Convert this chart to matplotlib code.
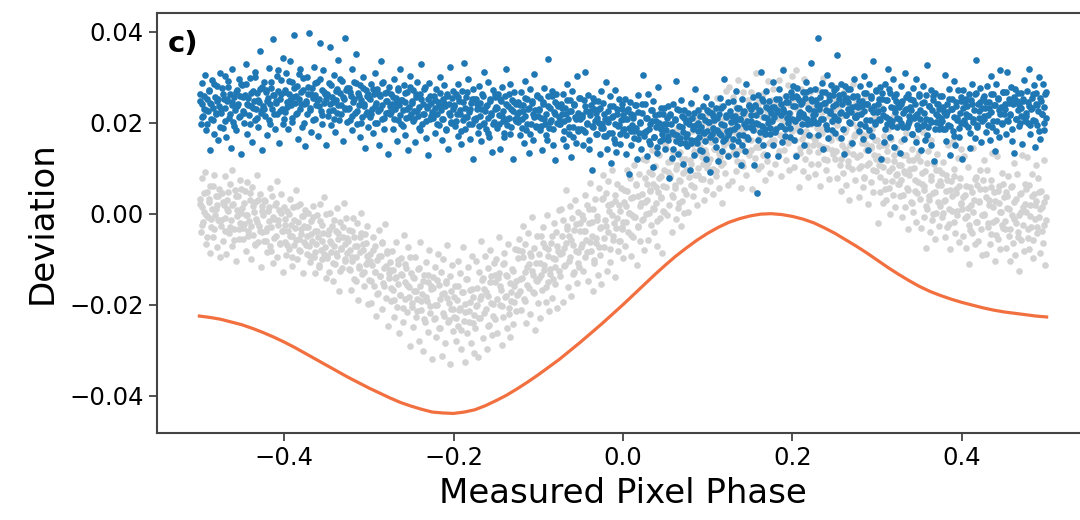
import numpy as np
import matplotlib
matplotlib.use("Agg")
import matplotlib.pyplot as plt

# phase bins: left edges of the 40 bins (+ right end)
phase = [-0.5, -0.475, -0.45, -0.425, -0.4, -0.375, -0.35, -0.325, -0.3, -0.275,
         -0.25, -0.225, -0.2, -0.175, -0.15, -0.125, -0.1, -0.075, -0.05, -0.025,
         0.0, 0.025, 0.05, 0.075, 0.1, 0.125, 0.15, 0.175, 0.2, 0.225,
         0.25, 0.275, 0.3, 0.325, 0.35, 0.375, 0.4, 0.425, 0.45, 0.475, 0.5]
bin_width = 0.025

# model curve (orange)
model_phase = [-0.5, -0.4875, -0.475, -0.4625, -0.45, -0.4375, -0.425, -0.4125, -0.4, -0.3875,
               -0.375, -0.3625, -0.35, -0.3375, -0.325, -0.3125, -0.3, -0.2875, -0.275, -0.2625,
               -0.25, -0.2375, -0.225, -0.2125, -0.2, -0.1875, -0.175, -0.1625, -0.15, -0.1375,
               -0.125, -0.1125, -0.1, -0.0875, -0.075, -0.0625, -0.05, -0.0375, -0.025, -0.0125,
               0.0, 0.0125, 0.025, 0.0375, 0.05, 0.0625, 0.075, 0.0875, 0.1, 0.1125,
               0.125, 0.1375, 0.15, 0.1625, 0.175, 0.1875, 0.2, 0.2125, 0.225, 0.2375,
               0.25, 0.2625, 0.275, 0.2875, 0.3, 0.3125, 0.325, 0.3375, 0.35, 0.3625,
               0.375, 0.3875, 0.4, 0.4125, 0.425, 0.4375, 0.45, 0.4625, 0.475, 0.4875, 0.5]
model = [-0.0225, -0.0228, -0.0232, -0.0238, -0.0244, -0.0252, -0.0261, -0.0271, -0.0282, -0.0294,
         -0.0307, -0.0320, -0.0333, -0.0346, -0.0359, -0.0371, -0.0383, -0.0394, -0.0405, -0.0415,
         -0.0423, -0.0430, -0.0436, -0.0438, -0.0439, -0.0436, -0.0431, -0.0422, -0.0411, -0.0399,
         -0.0385, -0.0370, -0.0354, -0.0337, -0.0320, -0.0301, -0.0282, -0.0262, -0.0242, -0.0221,
         -0.0200, -0.0178, -0.0156, -0.0134, -0.0113, -0.0093, -0.0075, -0.0058, -0.0043, -0.0030,
         -0.0019, -0.0011, -0.0005, -0.0001, 0.0000, -0.0002, -0.0006, -0.0012, -0.0020, -0.0031,
         -0.0043, -0.0057, -0.0071, -0.0086, -0.0102, -0.0118, -0.0133, -0.0147, -0.0160, -0.0171,
         -0.0180, -0.0188, -0.0195, -0.0201, -0.0207, -0.0212, -0.0216, -0.0219, -0.0222, -0.0225, -0.0227]

# corrected deviations (blue), per phase bin, units of 1e-4
blue_dev = [
    [262, 198, 241, 287, 215, 229, 305, 184, 251, 226, 270, 139, 244, 208, 293, 232, 176, 256, 219, 281, 247, 162, 237, 310],
    [221, 276, 189, 253, 302, 233, 168, 247, 291, 210, 264, 145, 238, 319, 202, 257, 227, 183, 272, 241, 296, 214, 259, 131],
    [283, 226, 199, 261, 330, 240, 175, 254, 217, 298, 236, 158, 270, 248, 205, 312, 229, 266, 190, 245, 358, 221, 279, 141],
    [236, 289, 214, 267, 173, 255, 321, 242, 198, 276, 229, 384, 261, 187, 247, 303, 219, 270, 156, 252, 294, 231, 342, 208],
    [271, 223, 309, 246, 186, 262, 336, 238, 290, 201, 257, 393, 244, 218, 281, 165, 253, 317, 229, 268, 190, 299, 242, 149],
    [247, 301, 219, 264, 398, 233, 180, 276, 255, 322, 208, 260, 239, 289, 171, 251, 375, 226, 272, 197, 315, 243, 262, 152],
    [263, 215, 288, 241, 366, 194, 257, 228, 305, 179, 249, 274, 221, 337, 206, 266, 238, 292, 160, 253, 387, 232, 271, 201],
    [229, 277, 206, 258, 318, 184, 246, 289, 222, 351, 197, 265, 238, 168, 283, 250, 213, 300, 236, 145, 271, 224, 259, 190],
    [255, 212, 284, 231, 178, 262, 309, 199, 244, 273, 225, 150, 258, 336, 208, 239, 290, 186, 266, 221, 247, 132, 279, 236],
    [218, 264, 241, 187, 296, 229, 254, 160, 277, 205, 238, 319, 196, 250, 227, 283, 172, 246, 211, 268, 141, 235, 302, 220],
    [247, 203, 271, 226, 158, 256, 290, 214, 235, 183, 262, 330, 198, 241, 219, 279, 167, 232, 252, 129, 288, 209, 244, 224],
    [211, 259, 233, 178, 274, 220, 246, 195, 301, 228, 163, 252, 207, 283, 236, 186, 264, 142, 241, 217, 322, 199, 255, 230],
    [238, 192, 263, 219, 286, 171, 247, 228, 154, 270, 205, 331, 233, 186, 256, 212, 295, 224, 165, 243, 198, 274, 120, 251],
    [206, 251, 229, 177, 280, 215, 243, 159, 264, 198, 312, 226, 185, 238, 211, 289, 169, 247, 222, 136, 271, 201, 257, 230],
    [234, 189, 262, 216, 143, 247, 279, 203, 226, 168, 258, 319, 194, 237, 211, 284, 176, 229, 250, 121, 267, 208, 241, 220],
    [201, 246, 223, 172, 268, 209, 238, 156, 291, 214, 184, 253, 230, 133, 275, 197, 244, 219, 161, 306, 227, 190, 259, 215],
    [229, 183, 254, 210, 140, 241, 277, 196, 220, 162, 258, 340, 188, 233, 205, 269, 151, 224, 245, 118, 262, 199, 236, 213],
    [197, 241, 218, 165, 263, 204, 232, 148, 284, 209, 176, 249, 225, 124, 270, 190, 238, 213, 155, 302, 221, 182, 255, 207],
    [187, 212, 152, 250, 311, 180, 226, 196, 260, 142, 216, 238, 96, 255, 190, 229, 203, 221, 176, 247, 199, 131, 233, 269],
    [196, 243, 170, 209, 289, 143, 201, 226, 178, 258, 112, 213, 237, 164, 197, 272, 136, 220, 192, 251, 153, 206, 229, 184],
    [217, 186, 251, 132, 207, 229, 87, 246, 181, 220, 194, 211, 166, 238, 189, 121, 224, 260, 177, 202, 142, 241, 305, 170],
    [241, 182, 210, 126, 262, 187, 154, 227, 203, 102, 248, 168, 216, 191, 133, 279, 199, 160, 233, 186, 174, 219, 196, 143],
    [184, 210, 171, 236, 78, 219, 197, 122, 241, 176, 207, 160, 292, 231, 132, 192, 167, 250, 214, 110, 179, 228, 156, 201],
    [149, 222, 198, 97, 243, 163, 211, 186, 128, 274, 194, 155, 228, 181, 169, 214, 191, 138, 236, 177, 205, 121, 257, 182],
    [202, 224, 91, 241, 176, 215, 189, 206, 161, 233, 184, 115, 219, 255, 172, 197, 137, 236, 297, 165, 212, 181, 246, 127],
    [179, 226, 201, 148, 248, 187, 215, 131, 269, 192, 159, 232, 208, 107, 253, 173, 221, 196, 138, 284, 204, 165, 238, 191],
    [204, 230, 191, 256, 106, 239, 217, 45, 261, 196, 227, 180, 312, 251, 152, 212, 187, 270, 234, 130, 199, 248, 176, 221],
    [235, 151, 289, 212, 179, 252, 228, 127, 273, 193, 241, 216, 158, 316, 224, 185, 258, 210, 199, 246, 221, 168, 268, 207],
    [281, 162, 237, 259, 126, 276, 211, 250, 224, 241, 196, 268, 219, 150, 254, 290, 207, 232, 172, 271, 332, 200, 247, 216],
    [225, 273, 200, 239, 385, 173, 231, 256, 208, 288, 142, 243, 267, 194, 227, 304, 166, 250, 222, 283, 183, 236, 261, 214],
    [177, 276, 348, 205, 252, 221, 286, 167, 242, 264, 131, 281, 216, 255, 229, 246, 201, 273, 224, 155, 259, 295, 212, 237],
    [212, 259, 234, 181, 281, 220, 248, 164, 302, 225, 192, 265, 241, 140, 286, 206, 254, 229, 171, 336, 237, 198, 271, 223],
    [226, 252, 208, 279, 120, 266, 231, 158, 284, 213, 249, 198, 318, 275, 169, 235, 203, 296, 257, 146, 223, 262, 190, 244],
    [234, 133, 280, 199, 247, 222, 164, 310, 229, 191, 263, 215, 204, 253, 227, 174, 276, 211, 241, 157, 297, 218, 186, 258],
    [209, 140, 244, 280, 197, 222, 162, 261, 326, 190, 237, 206, 271, 152, 227, 249, 116, 266, 201, 240, 214, 231, 186, 258],
    [210, 258, 186, 224, 305, 159, 217, 242, 194, 275, 128, 229, 253, 181, 213, 292, 152, 236, 206, 271, 169, 222, 248, 199],
    [121, 271, 206, 245, 219, 236, 191, 263, 214, 145, 249, 285, 202, 227, 167, 266, 338, 195, 242, 211, 276, 157, 232, 254],
    [209, 258, 232, 179, 281, 216, 246, 162, 302, 223, 191, 263, 239, 138, 285, 204, 252, 227, 169, 315, 234, 196, 268, 220],
    [229, 175, 268, 312, 203, 244, 219, 278, 159, 240, 256, 134, 273, 208, 247, 227, 238, 199, 265, 214, 153, 251, 293, 204],
    [221, 270, 199, 236, 318, 176, 230, 255, 206, 282, 146, 242, 266, 195, 226, 300, 165, 247, 218, 285, 183, 234, 262, 211],
]

# more blue points (the dense core of the band), same bins
blue_core = [
    [248, 213, 259, 227, 196, 271, 240, 205, 284, 222, 252, 190],
    [229, 263, 204, 251, 278, 218, 245, 193, 267, 236, 212, 286],
    [257, 221, 284, 239, 196, 266, 232, 301, 210, 250, 275, 227],
    [231, 272, 247, 205, 289, 260, 218, 243, 315, 226, 264, 197],
    [268, 235, 292, 249, 211, 277, 258, 222, 306, 242, 271, 199],
    [244, 279, 228, 262, 205, 287, 250, 237, 296, 216, 268, 253],
    [261, 226, 283, 245, 207, 270, 238, 297, 219, 256, 230, 276],
    [233, 268, 214, 252, 287, 225, 259, 200, 277, 241, 219, 262],
    [251, 218, 273, 236, 199, 262, 229, 287, 211, 247, 268, 224],
    [224, 256, 207, 243, 271, 216, 250, 193, 266, 231, 212, 279],
    [243, 209, 262, 226, 188, 251, 219, 274, 203, 237, 259, 215],
    [216, 249, 198, 237, 265, 207, 243, 184, 258, 222, 201, 270],
    [237, 203, 256, 219, 182, 246, 212, 268, 196, 230, 251, 208],
    [211, 242, 192, 230, 259, 200, 236, 178, 252, 217, 196, 264],
    [232, 198, 251, 214, 177, 241, 207, 263, 190, 225, 246, 203],
    [207, 238, 188, 226, 255, 196, 232, 174, 248, 213, 192, 260],
    [227, 193, 246, 209, 172, 236, 202, 258, 185, 220, 241, 198],
    [201, 232, 182, 220, 249, 190, 226, 168, 242, 207, 186, 254],
    [217, 183, 236, 199, 162, 226, 192, 248, 175, 210, 231, 188],
    [189, 220, 170, 208, 237, 178, 214, 156, 230, 195, 174, 242],
    [207, 173, 226, 189, 152, 216, 182, 238, 165, 200, 221, 178],
    [179, 210, 160, 198, 227, 168, 204, 146, 220, 185, 164, 232],
    [197, 163, 216, 179, 142, 206, 172, 228, 155, 190, 211, 168],
    [174, 205, 155, 193, 222, 163, 199, 141, 215, 180, 159, 227],
    [202, 168, 221, 184, 147, 211, 177, 233, 160, 195, 216, 173],
    [184, 215, 165, 203, 232, 173, 209, 151, 225, 190, 169, 237],
    [217, 183, 236, 199, 162, 226, 192, 248, 175, 210, 231, 188],
    [204, 235, 185, 223, 252, 193, 229, 171, 245, 210, 189, 257],
    [237, 203, 256, 219, 182, 246, 212, 268, 196, 230, 251, 208],
    [219, 250, 200, 238, 267, 208, 244, 186, 260, 225, 204, 272],
    [242, 208, 261, 224, 187, 251, 217, 273, 200, 235, 256, 213],
    [217, 248, 198, 236, 265, 206, 242, 184, 258, 223, 202, 270],
    [240, 206, 253, 216, 185, 249, 209, 265, 193, 233, 248, 211],
    [209, 240, 190, 228, 257, 198, 234, 176, 250, 215, 194, 262],
    [227, 193, 246, 209, 172, 236, 202, 258, 185, 220, 241, 198],
    [204, 235, 185, 223, 252, 193, 229, 171, 245, 210, 189, 257],
    [232, 198, 251, 214, 177, 241, 207, 263, 190, 225, 246, 203],
    [214, 245, 195, 233, 262, 203, 239, 181, 255, 220, 199, 267],
    [240, 206, 253, 216, 185, 249, 209, 265, 193, 233, 248, 211],
    [214, 245, 195, 233, 262, 203, 239, 181, 255, 220, 199, 267],
]

# raw deviations (grey), per phase bin, units of 1e-4
grey_dev = [
    [32, -41, 14, 78, -19, 3, 91, -66, 47, -8, 25, -87, 60, -30, 11, -52, 84, -2, 39, -74, 20, -13, 55, -95],
    [-27, 45, -61, 18, 83, -9, -88, 30, 6, -43, 66, -15, 97, -70, 22, -34, 51, -104, 9, 38, -56, 74, -21, 2],
    [12, -55, -23, 49, -81, -4, 70, -37, -16, 31, -99, 58, -46, 3, -69, 26, -12, 84, -63, -28, 44, -118, 17, -40],
    [-3, -61, 28, -39, -84, 6, -17, 56, -72, -30, 39, -108, -11, 18, -50, 71, -95, -24, 9, -66, 44, -37, -128, 15],
    [-62, -12, -91, 5, -38, -77, 33, -25, -116, -49, 14, -69, -31, 51, -100, -18, -56, 22, -83, -44, -5, -131, -28, 8],
    [-30, -89, -48, 2, -71, -107, -16, -60, 17, -95, -39, -130, -66, -3, -52, -118, 22, -80, -24, -99, -43, 36, -74, -142],
    [-98, -45, -129, -61, 1, -84, -27, -148, -70, -110, -38, 13, -92, -56, -171, -18, -75, -120, -52, 24, -103, -66, -9, -87],
    [-59, -122, -80, -168, -37, -103, -9, -144, -71, -96, -21, -189, -115, -51, -85, 2, -133, -67, -158, -44, -110, -28, -92, -199],
    [-146, -88, -197, -113, -52, -160, -129, -71, -225, -101, -175, -36, -138, -94, -210, -63, -152, -119, -23, -185, -83, -246, -131, -106],
    [-124, -193, -83, -168, -227, -141, -62, -206, -155, -110, -262, -178, -97, -135, -239, -46, -187, -150, -120, -215, -73, -162, -291, -131],
    [-205, -140, -248, -171, -96, -226, -188, -121, -279, -158, -63, -212, -177, -302, -134, -237, -106, -193, -150, -261, -80, -219, -166, -320],
    [-163, -231, -117, -201, -270, -146, -88, -251, -188, -129, -312, -219, -100, -174, -285, -153, -68, -238, -196, -137, -330, -209, -112, -257],
    [-226, -158, -279, -190, -105, -247, -212, -131, -298, -173, -74, -235, -199, -325, -143, -262, -118, -214, -167, -285, -92, -241, -183, -306],
    [-251, -103, -200, -315, -128, -188, -229, -59, -145, -273, -165, -94, -210, -297, -120, -181, -244, -80, -137, -267, -198, -109, -232, -151],
    [-99, -262, -141, -51, -201, -168, -288, -110, -228, -87, -184, -134, -251, -66, -208, -153, -272, -191, -122, -243, -158, -78, -214, -179],
    [-97, -176, -56, -143, -212, -83, -28, -188, -128, -67, -240, -156, -42, -110, -221, -92, -8, -172, -135, -75, -255, -146, -49, -196],
    [-142, -108, -229, -50, -168, -29, -124, -73, -194, -3, -150, -92, -214, -133, -64, -186, -98, -20, -155, -118, -41, -207, -81, 8],
    [-137, 10, -87, -195, -15, -76, -112, 52, -33, -162, -50, 16, -96, -180, -9, -69, -128, 31, -23, -152, -84, 3, -117, -38],
    [-74, -4, -126, -38, 41, -95, -58, 19, -147, -21, 67, -82, -48, -169, 10, -108, 32, -64, -13, -134, 56, -90, -32, -154],
    [32, 86, -73, -14, 46, -125, -41, 71, 5, -107, 22, 97, -57, -21, 40, -140, -32, 65, -82, 18, -61, 57, -29, -97],
    [-19, 51, -71, 17, 96, -40, 2, 79, -92, 34, -3, -52, 107, -8, 63, -112, 39, -28, 88, -60, 24, -15, 120, -80],
    [78, -1, 117, 31, -57, 91, 52, -24, 139, 12, 66, -41, 104, 23, -72, 47, 128, -9, 83, 36, -86, 61, 4, 150],
    [145, -3, 92, 199, 20, 81, 116, -41, 36, 168, 56, -12, 99, 186, 13, 74, 135, -27, 28, 157, 89, 2, 121, 43],
    [95, 4, 154, 119, 241, 62, 181, 38, 138, 86, 207, 18, 160, 101, 228, 146, 76, 197, 109, 31, 167, 132, 53, 219],
    [112, 191, 71, 158, 227, 98, 43, 203, 143, 82, 255, 171, 57, 125, 236, 107, 23, 187, 150, 90, 270, 161, 64, 211],
    [278, 159, 214, 72, 257, 140, 190, 93, 234, 116, 294, 174, 207, 57, 147, 268, 105, 185, 220, 84, 164, 249, 128, 197],
    [268, 140, 54, 224, 183, 123, 310, 195, 98, 246, 146, 227, 104, 193, 262, 132, 75, 239, 176, 115, 292, 205, 89, 160],
    [222, 153, 274, 187, 109, 245, 210, 130, 293, 172, 82, 232, 199, 319, 141, 259, 118, 215, 165, 282, 97, 239, 184, 303],
    [251, 103, 200, 315, 128, 188, 229, 59, 145, 273, 165, 94, 210, 297, 120, 181, 244, 80, 137, 267, 198, 109, 232, 151],
    [168, 88, 224, 189, 109, 272, 151, 61, 211, 178, 298, 120, 238, 97, 194, 144, 261, 76, 218, 163, 282, 201, 132, 253],
    [121, 202, 79, 168, 237, 107, 50, 214, 151, 90, 267, 180, 64, 135, 243, 115, 29, 199, 158, 98, 285, 170, 73, 221],
    [243, 124, 179, 37, 222, 105, 155, 58, 198, 81, 259, 139, 172, 22, 111, 232, 70, 149, 185, 48, 128, 214, 93, 162],
    [-21, 149, 108, 48, 235, 120, 23, 171, 71, 152, 29, 118, 187, 57, 0, 164, 101, 40, 217, 130, 14, 85, 193, 65],
    [107, 38, 159, 73, -7, 130, 94, 15, 177, 56, -33, 117, 84, 204, 26, 143, 3, 100, 50, 167, -18, 124, 69, 188],
    [116, -32, 65, 180, -7, 53, 94, -76, 10, 138, 30, -41, 75, 162, -15, 46, 109, -55, 2, 132, 63, -26, 97, 16],
    [62, -7, 114, 28, -52, 85, 49, -30, 152, 11, -78, 72, 39, 159, -19, 98, -42, 55, 5, 122, -63, 79, 24, 143],
    [11, -50, 127, 40, -76, -5, 103, -25, -111, 59, 18, -42, 145, 30, -67, 81, -19, 62, -61, 28, 97, -33, -90, 74],
    [118, -1, 54, -88, 97, -20, 30, -67, 73, -44, 134, 14, 47, -103, -14, 127, -55, 24, 60, -77, 3, 89, -32, 37],
    [-34, 47, -76, 13, 82, -48, -105, 59, -4, -65, 112, 25, -91, -20, 88, -40, -126, 44, 3, -57, 130, 15, -82, 66],
    [4, 124, -54, 63, -77, 20, -30, 87, -98, 44, -11, 108, 27, -42, 79, -7, -87, 50, 14, -65, 117, -24, -113, 37],
]

# more grey points, same bins
grey_core = [
    [21, -24, 45, -3, -51, 32, -12, 61, -34, 11, 39, -17],
    [-14, 26, -39, 10, 48, -29, 18, -57, 39, -6, -34, 55],
    [-32, 24, -4, -49, 46, -27, 17, -66, -18, 30, -39, 6],
    [30, -59, -31, 14, -82, -7, -54, 23, -15, -64, 1, -39],
    [-24, -69, 0, -48, -96, -13, -57, 16, -79, -34, -6, -62],
    [-69, -29, -94, -45, -7, -84, -37, -112, -16, -61, -89, 0],
    [-92, -36, -64, -109, -14, -87, -43, -126, -78, -30, -99, -54],
    [-35, -124, -96, -51, -147, -72, -119, -42, -80, -129, -64, -104],
    [-104, -149, -80, -128, -176, -93, -137, -64, -159, -114, -86, -142],
    [-164, -124, -189, -140, -102, -179, -132, -207, -111, -156, -184, -95],
    [-197, -141, -169, -214, -119, -192, -148, -231, -183, -135, -204, -159],
    [-140, -229, -201, -156, -252, -177, -224, -147, -185, -234, -169, -209],
    [-184, -229, -160, -208, -256, -173, -217, -144, -239, -194, -166, -222],
    [-204, -164, -229, -180, -142, -219, -172, -247, -151, -196, -224, -135],
    [-187, -131, -159, -204, -109, -182, -138, -221, -173, -125, -194, -149],
    [-80, -169, -141, -96, -192, -117, -164, -87, -125, -174, -109, -149],
    [-89, -134, -65, -113, -161, -78, -122, -49, -144, -99, -71, -127],
    [-89, -49, -114, -65, -27, -104, -57, -132, -36, -81, -109, -20],
    [-67, -11, -39, -84, 11, -62, -18, -101, -53, -5, -74, -29],
    [35, -54, -26, 19, -77, -2, -49, 28, -10, -59, 6, -34],
    [26, -19, 50, 2, -46, 37, -7, 66, -29, 16, 44, -12],
    [26, 66, 1, 50, 88, 11, 58, -17, 79, 34, 6, 95],
    [58, 114, 86, 41, 136, 63, 107, 24, 72, 120, 51, 96],
    [170, 81, 109, 154, 58, 133, 86, 163, 125, 76, 141, 101],
    [166, 121, 190, 142, 94, 177, 133, 206, 111, 156, 184, 128],
    [156, 196, 131, 180, 218, 141, 188, 113, 209, 164, 136, 225],
    [163, 219, 191, 146, 241, 168, 212, 129, 177, 225, 156, 201],
    [250, 161, 189, 234, 138, 213, 166, 243, 205, 156, 221, 181],
    [206, 161, 230, 182, 134, 217, 173, 246, 151, 196, 224, 168],
    [161, 201, 136, 185, 223, 146, 193, 118, 214, 169, 141, 230],
    [138, 194, 166, 121, 216, 143, 187, 104, 152, 200, 131, 176],
    [190, 101, 129, 174, 78, 153, 106, 183, 145, 96, 161, 121],
    [126, 81, 150, 102, 54, 137, 93, 166, 71, 116, 144, 88],
    [66, 106, 41, 90, 128, 51, 98, 23, 119, 74, 46, 135],
    [33, 89, 61, 16, 111, 38, 82, -1, 47, 95, 26, 71],
    [90, 1, 29, 74, -22, 53, 6, 83, 45, -4, 61, 21],
    [36, -9, 60, 12, -36, 47, 3, 76, -19, 26, 54, -2],
    [-4, 36, -29, 20, 58, -19, 28, -47, 49, 4, -24, 65],
    [-17, 39, 11, -34, 61, -12, 32, -51, -3, 45, -24, 21],
    [55, -34, -6, 39, -57, 18, -29, 48, 10, -39, 26, -14],
]


def spread(groups):
    # place the points of each bin evenly across the bin width
    xs, ys = [], []
    for i in range(len(groups)):
        n = len(groups[i])
        for j in range(n):
            xs.append(phase[i] + bin_width*(j+0.5)/n)
            ys.append(groups[i][j]*1e-4)
    return xs, ys


gx1, gy1 = spread(grey_dev)
gx2, gy2 = spread(grey_core)
bx1, by1 = spread(blue_dev)
bx2, by2 = spread(blue_core)
grey_x = np.array(gx1 + gx2)
grey_y = np.array(gy1 + gy2)
blue_x = np.array(bx1 + bx2)
blue_y = np.array(by1 + by2)

fig = plt.figure(figsize=(10.8, 5.2), dpi=100)
ax = fig.add_axes([157/1080, 87/520, 932/1080, 420/520])

ax.plot(grey_x, grey_y, 'o', color='#d3d3d3', markersize=4.8, markeredgewidth=0, zorder=1)
ax.plot(blue_x, blue_y, 'o', color='#1f77b4', markersize=4.8, markeredgewidth=0, zorder=2)
ax.plot(model_phase, model, '-', color='#f2703f', linewidth=2.3, zorder=3)

ax.set_xlim(-0.55, 0.55)
ax.set_ylim(-0.0482, 0.0441)
ax.set_xticks([-0.4, -0.2, 0.0, 0.2, 0.4])
ax.set_yticks([-0.04, -0.02, 0.0, 0.02, 0.04])
ax.tick_params(labelsize=17.5, length=6, width=1.2, color='#333333')
for s in ax.spines.values():
    s.set_linewidth(1.5)
    s.set_color('#444444')

ax.set_xlabel("Measured Pixel Phase", fontsize=24.5, labelpad=5)
ax.set_ylabel("Deviation", fontsize=24.5, labelpad=8)
ax.text(0.011, 0.96, "c)", transform=ax.transAxes, fontsize=21, fontweight='bold', va='top', ha='left')

fig.savefig("out.png", dpi=100)
